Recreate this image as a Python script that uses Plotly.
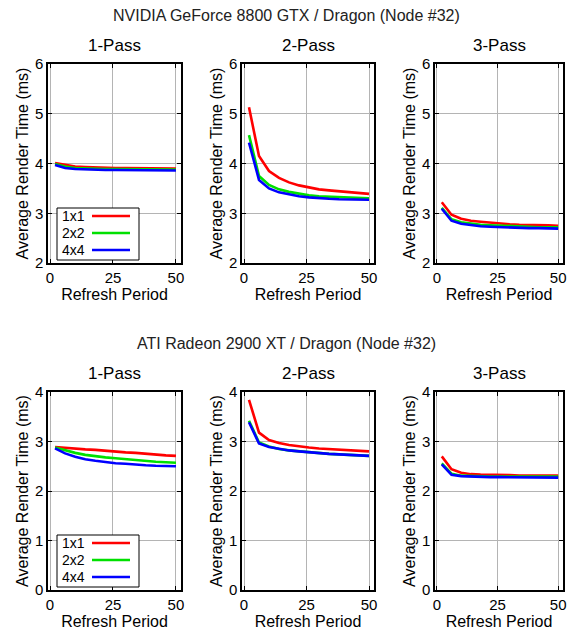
import plotly.graph_objects as go

W, H = 573, 634

refresh = [2, 6, 10, 14, 18, 22, 26, 30, 34, 38, 42, 46, 50]
series_names = ["1x1", "2x2", "4x4"]
series_colors = ["#ff0000", "#00e000", "#0000ff"]
pass_names = ["1-Pass", "2-Pass", "3-Pass"]
row_titles = ["NVIDIA GeForce 8800 GTX / Dragon (Node #32)",
              "ATI Radeon 2900 XT / Dragon (Node #32)"]
y_ranges = [[2, 6], [0, 4]]
y_ticks = [[2, 3, 4, 5, 6], [0, 1, 2, 3, 4]]
x_ticks = [0, 25, 50]

# NVIDIA
nv_1p_1x1 = [4.01, 3.97, 3.94, 3.93, 3.92, 3.92, 3.91, 3.91, 3.91, 3.90, 3.90, 3.90, 3.90]
nv_1p_2x2 = [3.99, 3.94, 3.91, 3.90, 3.90, 3.89, 3.89, 3.89, 3.88, 3.88, 3.88, 3.88, 3.88]
nv_1p_4x4 = [3.97, 3.91, 3.89, 3.88, 3.88, 3.87, 3.87, 3.87, 3.87, 3.87, 3.86, 3.86, 3.86]
nv_2p_1x1 = [5.13, 4.15, 3.85, 3.71, 3.62, 3.56, 3.52, 3.48, 3.46, 3.44, 3.42, 3.40, 3.39]
nv_2p_2x2 = [4.57, 3.75, 3.57, 3.48, 3.43, 3.39, 3.36, 3.34, 3.33, 3.32, 3.31, 3.30, 3.30]
nv_2p_4x4 = [4.42, 3.67, 3.50, 3.42, 3.38, 3.34, 3.32, 3.30, 3.29, 3.28, 3.28, 3.27, 3.27]
nv_3p_1x1 = [3.22, 2.97, 2.89, 2.85, 2.83, 2.81, 2.79, 2.78, 2.77, 2.77, 2.76, 2.76, 2.75]
nv_3p_2x2 = [3.11, 2.88, 2.82, 2.79, 2.77, 2.76, 2.75, 2.74, 2.73, 2.73, 2.72, 2.72, 2.72]
nv_3p_4x4 = [3.09, 2.85, 2.79, 2.76, 2.74, 2.73, 2.72, 2.71, 2.71, 2.70, 2.70, 2.69, 2.69]
# ATI
ati_1p_1x1 = [2.89, 2.87, 2.86, 2.84, 2.83, 2.81, 2.80, 2.78, 2.77, 2.75, 2.74, 2.72, 2.71]
ati_1p_2x2 = [2.88, 2.82, 2.77, 2.73, 2.70, 2.68, 2.66, 2.64, 2.62, 2.61, 2.59, 2.58, 2.57]
ati_1p_4x4 = [2.86, 2.76, 2.69, 2.64, 2.61, 2.58, 2.56, 2.55, 2.53, 2.52, 2.51, 2.51, 2.50]
ati_2p_1x1 = [3.84, 3.18, 3.03, 2.97, 2.93, 2.90, 2.88, 2.86, 2.85, 2.83, 2.82, 2.81, 2.80]
ati_2p_2x2 = [3.42, 2.98, 2.90, 2.85, 2.82, 2.80, 2.78, 2.77, 2.75, 2.74, 2.73, 2.72, 2.71]
ati_2p_4x4 = [3.39, 2.96, 2.89, 2.85, 2.82, 2.80, 2.78, 2.76, 2.75, 2.74, 2.73, 2.72, 2.71]
ati_3p_1x1 = [2.70, 2.44, 2.37, 2.34, 2.33, 2.33, 2.32, 2.32, 2.31, 2.31, 2.31, 2.31, 2.31]
ati_3p_2x2 = [2.56, 2.35, 2.31, 2.30, 2.30, 2.29, 2.29, 2.29, 2.29, 2.29, 2.29, 2.29, 2.29]
ati_3p_4x4 = [2.54, 2.33, 2.30, 2.29, 2.29, 2.28, 2.28, 2.28, 2.28, 2.28, 2.28, 2.28, 2.27]

panels = [
    [[nv_1p_1x1, nv_1p_2x2, nv_1p_4x4],
     [nv_2p_1x1, nv_2p_2x2, nv_2p_4x4],
     [nv_3p_1x1, nv_3p_2x2, nv_3p_4x4]],
    [[ati_1p_1x1, ati_1p_2x2, ati_1p_4x4],
     [ati_2p_1x1, ati_2p_2x2, ati_2p_4x4],
     [ati_3p_1x1, ati_3p_2x2, ati_3p_4x4]],
]

FONT = "Liberation Sans, Arial, Helvetica, sans-serif"

# layout in pixels
col_px = [(48, 181), (242, 374), (435, 563)]
row_px = [(64, 263), (392, 590)]

def px_x(x):
    return x / W

def px_y(y):
    return 1 - y / H

fig = go.Figure()
layout = dict(
    width=W, height=H,
    margin=dict(l=0, r=0, t=0, b=0, autoexpand=False),
    paper_bgcolor="white", plot_bgcolor="white",
    showlegend=False,
    font=dict(family=FONT, color="black"),
)
annotations = []
shapes = []

for r in range(2):
    for c in range(3):
        idx = r * 3 + c + 1
        xa = "xaxis" if idx == 1 else f"xaxis{idx}"
        ya = "yaxis" if idx == 1 else f"yaxis{idx}"
        xr = "x" if idx == 1 else f"x{idx}"
        yr = "y" if idx == 1 else f"y{idx}"
        for s in range(3):
            fig.add_trace(go.Scatter(
                x=refresh, y=panels[r][c][s], mode="lines",
                line=dict(color=series_colors[s], width=2.6),
                name=series_names[s], xaxis=xr, yaxis=yr,
            ))
        x0, x1 = col_px[c]
        y0, y1 = row_px[r]
        layout[xa] = dict(
            domain=[px_x(x0), px_x(x1)], anchor=yr, range=[-0.8, 52],
            tickvals=x_ticks, ticks="inside", ticklen=4, tickcolor="black",
            showline=True, linecolor="black", linewidth=1.5, mirror="ticks",
            showgrid=True, gridcolor="#b4b4b4", gridwidth=1, zeroline=False,
            automargin=False,
            tickfont=dict(size=15), title=dict(text="Refresh Period", font=dict(size=16), standoff=2),
        )
        layout[ya] = dict(
            domain=[px_y(y1), px_y(y0)], anchor=xr, range=y_ranges[r],
            tickvals=y_ticks[r], ticks="inside", ticklen=4, tickcolor="black",
            showline=True, linecolor="black", linewidth=1.5, mirror="ticks",
            showgrid=True, gridcolor="#b4b4b4", gridwidth=1, zeroline=False,
            automargin=False,
            tickfont=dict(size=15), title=dict(text="Average Render Time (ms)", font=dict(size=16), standoff=2),
        )
        annotations.append(dict(
            text=pass_names[c], x=px_x((x0 + x1) / 2), y=px_y(y0 - 19),
            xref="paper", yref="paper", showarrow=False, font=dict(size=17),
            xanchor="center", yanchor="middle",
        ))
    annotations.append(dict(
        text=row_titles[r], x=0.5, y=px_y(16 if r == 0 else 343),
        xref="paper", yref="paper", showarrow=False, font=dict(size=16, color="#222"),
        xanchor="center", yanchor="middle",
    ))
    # manual legend (text left, line sample right) in first panel
    bx0, bx1 = 57, 139
    by0 = 208 if r == 0 else 535
    by1 = by0 + 52
    shapes.append(dict(type="rect", xref="paper", yref="paper",
                       x0=px_x(bx0), x1=px_x(bx1), y0=px_y(by1), y1=px_y(by0),
                       line=dict(color="black", width=1), fillcolor="white", layer="above"))
    for s in range(3):
        yy = by0 + 8 + 17 * s
        annotations.append(dict(
            text=series_names[s], x=px_x(bx0 + 3), y=px_y(yy),
            xref="paper", yref="paper", showarrow=False, font=dict(size=14),
            xanchor="left", yanchor="middle",
        ))
        shapes.append(dict(type="line", xref="paper", yref="paper",
                           x0=px_x(92), x1=px_x(130), y0=px_y(yy), y1=px_y(yy),
                           line=dict(color=series_colors[s], width=2.6), layer="above"))

layout["annotations"] = annotations
layout["shapes"] = shapes
fig.update_layout(**layout)
fig.write_html(
    "out.html",
    config={"displayModeBar": False},
    post_script="document.body.style.margin='0';document.body.style.overflow='hidden';",
)
